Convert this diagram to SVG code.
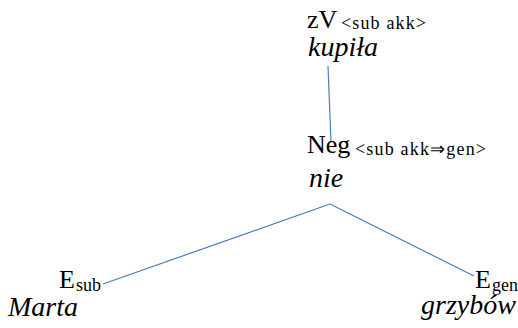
<svg xmlns="http://www.w3.org/2000/svg" width="518" height="328" viewBox="0 0 518 328">
<style>
text{font-family:"Liberation Serif","Times New Roman",serif;fill:#000}
.m{font-size:26px}
.s{font-size:18px}
.i{font-size:28px;font-style:italic}
.c{stroke:#4a7ebb;stroke-width:1.2;fill:none}
</style>
<rect width="518" height="328" fill="#fff"/>
<g id="connectors">
<line class="c" x1="328" y1="66" x2="331" y2="142"/>
<line class="c" x1="330" y1="204" x2="103" y2="284"/>
<line class="c" x1="330" y1="204" x2="474" y2="276"/>
</g>
<g id="zV">
<text class="m" x="307" y="28">zV</text>
<text class="s" x="341" y="29" textLength="85" lengthAdjust="spacing">&lt;sub akk&gt;</text>
<text class="i" x="308" y="56">kupiła</text>
</g>
<g id="Neg">
<text class="m" x="307" y="153">Neg</text>
<text class="s" x="355" y="155" textLength="131" lengthAdjust="spacing">&lt;sub akk⇒gen&gt;</text>
<text class="i" x="309" y="187">nie</text>
</g>
<g id="Esub">
<text class="m" x="59" y="288">E</text>
<text class="s" x="76" y="291">sub</text>
<text class="i" x="8" y="316">Marta</text>
</g>
<g id="Egen">
<text class="m" x="475" y="288">E</text>
<text class="s" x="492" y="291">gen</text>
<text class="i" x="421" y="314">grzybów</text>
</g>
</svg>
